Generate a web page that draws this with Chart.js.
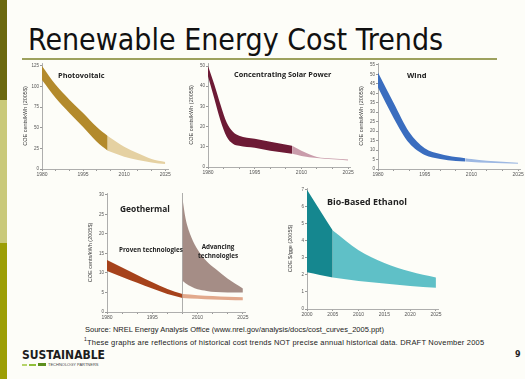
<!DOCTYPE html>
<html>
<head>
<meta charset="utf-8">
<script src="https://cdn.jsdelivr.net/npm/chart.js@4.4.0/dist/chart.umd.min.js"></script>
<style>
body{margin:0;width:525px;height:379px;overflow:hidden;background:#fdfdf8;position:relative;font-family:"DejaVu Sans",Verdana,sans-serif}
.box{position:absolute}
.lbl{position:absolute;font-family:"Open Sans",sans-serif;font-weight:700;color:#222;white-space:nowrap;line-height:1}
</style>
</head>
<body>
<!-- left stripe -->
<div class="box" style="left:0;top:0;width:7px;height:100px;background:#6b680f"></div>
<div class="box" style="left:0;top:100px;width:7px;height:143px;background:#c9c97a"></div>
<div class="box" style="left:0;top:243px;width:7px;height:136px;background:#9c9e05"></div>

<div class="box" id="title" style="left:28px;top:22px;font-family:'DejaVu Sans Condensed','DejaVu Sans',sans-serif;font-size:30px;color:#111;white-space:nowrap">Renewable Energy Cost Trends</div>
<div class="box" style="left:22px;top:58px;width:475px;height:2px;background:#9da15e"></div>

<div class="box" id="c1"><canvas id="pv"></canvas></div>
<div class="box" id="c2"><canvas id="csp"></canvas></div>
<div class="box" id="c3"><canvas id="wind"></canvas></div>
<div class="box" id="c4"><canvas id="geo"></canvas></div>
<div class="box" id="c5"><canvas id="eth"></canvas></div>

<div class="lbl" style="left:58px;top:72px;font-size:7.4px">Photovoltaic</div>
<div class="lbl" style="left:234px;top:71px;font-size:7.3px">Concentrating Solar Power</div>
<div class="lbl" style="left:407px;top:72px;font-size:7.6px">Wind</div>
<div class="lbl" style="left:120px;top:205px;font-size:8.4px">Geothermal</div>
<div class="lbl" style="left:119px;top:247px;font-size:6.3px">Proven technologies</div>
<div class="lbl" style="left:198px;top:243px;font-size:6.3px;text-align:center;line-height:8.5px">Advancing<br>technologies</div>
<div class="lbl" style="left:327px;top:198px;font-size:8.9px">Bio-Based Ethanol</div>

<div class="box" style="left:85px;top:325px;font-family:'Liberation Sans',Arial,sans-serif;font-size:7.5px;color:#222;white-space:nowrap">Source: NREL Energy Analysis Office (www.nrel.gov/analysis/docs/cost_curves_2005.ppt)</div>
<div class="box" style="left:84px;top:336px;font-family:'Liberation Sans',Arial,sans-serif;font-size:7.5px;letter-spacing:0.2px;color:#222;white-space:nowrap"><sup style="font-size:5px">1</sup>These graphs are reflections of historical cost trends NOT precise annual historical data. DRAFT November 2005</div>

<div class="box" style="left:22px;top:348px;font-family:'DejaVu Sans Condensed','DejaVu Sans',sans-serif;font-weight:700;font-size:12px;color:#1d1d1d;white-space:nowrap">SUSTAINABLE</div>
<div class="box" style="left:22px;top:364px;width:5px;height:2px;background:#b6d36a"></div>
<div class="box" style="left:29px;top:364px;width:7px;height:2px;background:#8fbf3a"></div>
<div class="box" style="left:38px;top:363px;width:8px;height:3px;background:#5c8f1e"></div>
<div class="box" style="left:48px;top:362px;font-family:'Liberation Sans',Arial,sans-serif;font-size:4px;color:#444;white-space:nowrap">TECHNOLOGY PARTNERS</div>
<div class="box" style="left:515px;top:350px;font-family:'DejaVu Sans',sans-serif;font-weight:700;font-size:8px;color:#222">9</div>

<script>
// Photovoltaic (cents/kWh, 2005$)
const pvYears = [1980, 1985, 1990, 1995, 2000, 2004];
const pvHigh = [125, 102, 84, 68, 51, 40];
const pvLow = [108, 86, 68, 51, 33, 22];
const pvYears2 = [2004, 2010, 2015, 2020, 2025];
const pvHigh2 = [40, 27, 19, 12, 8.5];
const pvLow2 = [22, 15, 11, 8, 6];

// Concentrating solar power
const cspYears = [1980, 1982, 1984, 1986, 1988, 1990, 1995, 2000, 2007];
const cspHigh = [50, 41, 31, 22, 17.5, 15.5, 14, 12.5, 10.5];
const cspLow = [45, 34, 23, 15, 11.5, 10.5, 9.5, 8, 6.5];
const cspYears2 = [2007, 2010, 2015, 2020, 2025];
const cspHigh2 = [10.5, 8, 5, 4.2, 3.7];
const cspLow2 = [6.5, 5.5, 4.5, 3.8, 3.2];

// Wind
const windYears = [1980, 1985, 1990, 1995, 2000, 2005, 2008];
const windHigh = [51, 35, 19.6, 11, 7.9, 6.3, 5.7];
const windLow = [43, 27, 13.7, 7.4, 5.3, 4.2, 3.9];
const windYears2 = [2008, 2010, 2015, 2020, 2025];
const windHigh2 = [5.7, 5.3, 4.3, 3.8, 3.3];
const windLow2 = [3.9, 3.7, 3.3, 3.0, 2.8];

// Geothermal
const geoYears = [1980, 1985, 1990, 1995, 2000, 2005];
const geoHigh = [13.3, 11.4, 9.5, 7.6, 5.9, 4.6];
const geoLow = [10.5, 9.0, 7.5, 6.0, 4.6, 3.6];
const geoYears2 = [2005, 2010, 2015, 2020, 2025];
const geoHigh2 = [4.6, 4.3, 4.1, 3.9, 3.8];
const geoLow2 = [3.6, 3.4, 3.2, 3.1, 3.0];
const advYears = [2005, 2006, 2008, 2010, 2013, 2016, 2020, 2025];
const advHigh = [29, 24, 19, 16, 13, 11, 8.5, 6];
const advLow = [8, 7.4, 6.5, 5.8, 5.4, 5.1, 5.0, 5.0];
const geoDivider = [2005, 2005];
const geoDividerY = [0, 30.5];

// Bio-based ethanol ($/gge, 2005$)
const ethYears = [2000, 2002.5, 2005];
const ethHigh = [7.0, 5.8, 4.6];
const ethLow = [2.15, 2.0, 1.85];
const ethYears2 = [2005, 2010, 2015, 2020, 2025];
const ethHigh2 = [4.6, 3.45, 2.7, 2.2, 1.85];
const ethLow2 = [1.85, 1.65, 1.5, 1.35, 1.25];

function pts(xs, ys) {
    return xs.map((x, i) => ({x: x, y: ys[i]}));
}

// two datasets, the second fills up to the first
function band(xs, hi, lo, color) {
    return [
        {data: pts(xs, hi), borderWidth: 0, pointRadius: 0, fill: false, cubicInterpolationMode: 'monotone'},
        {data: pts(xs, lo), borderWidth: 0, pointRadius: 0, fill: '-1', backgroundColor: color, cubicInterpolationMode: 'monotone'}
    ];
}

// plot area box given in page pixels
function place(boxId, l, t, r, b) {
    const d = document.getElementById(boxId);
    d.style.left = (l - 20) + 'px';
    d.style.top = (t - 4) + 'px';
    d.style.width = (r - l + 26) + 'px';
    d.style.height = (b - t + 15) + 'px';
}

function make_chart(id, datasets, xmin, xmax, ymax, ystep, ytitle, everyLabel)
{
    const canvas = document.getElementById(id);
    return new Chart(canvas, {
        type: 'line',
        data: {datasets: datasets},
        options: {
            responsive: true,
            maintainAspectRatio: false,
            animation: false,
            layout: {padding: {top: 4, right: 6, left: 0, bottom: 0}},
            plugins: {legend: {display: false}, tooltip: {enabled: false}},
            scales: {
                x: {
                    type: 'linear', min: xmin, max: xmax,
                    afterFit: s => { s.height = 11; },
                    border: {color: '#999', width: 0.8},
                    grid: {drawOnChartArea: false, tickLength: 2, color: '#999'},
                    ticks: {
                        stepSize: 5, includeBounds: false, maxRotation: 0, autoSkip: false, padding: 1,
                        font: {size: 5, family: 'Liberation Sans'}, color: '#555',
                        callback: v => ((v - xmin) % everyLabel === 0 ? String(v) : '')
                    }
                },
                y: {
                    min: 0, max: ymax,
                    afterFit: s => { s.width = 20; },
                    border: {color: '#999', width: 0.8},
                    grid: {drawOnChartArea: false, tickLength: 2, color: '#999'},
                    ticks: {stepSize: ystep, includeBounds: false, padding: 1,
                        font: {size: 4.5, family: 'Liberation Sans'}, color: '#555'},
                    title: {display: true, text: ytitle, padding: 0,
                        font: {size: 5.5, family: 'Liberation Sans'}, color: '#444'}
                }
            }
        }
    });
}

const centsTitle = 'COE cents/kWh (2005$)';

place('c1', 42, 63, 168, 169);
make_chart('pv', [...band(pvYears, pvHigh, pvLow, '#b38a2c'), ...band(pvYears2, pvHigh2, pvLow2, '#e5d1a2')],
    1980, 2026, 128.5, 25, centsTitle, 15);

place('c2', 208, 63, 350, 167);
make_chart('csp', [...band(cspYears, cspHigh, cspLow, '#6d1a35'), ...band(cspYears2, cspHigh2, cspLow2, '#c99cab')],
    1980, 2025.6, 51.5, 10, centsTitle, 15);

place('c3', 378, 63, 520, 169);
make_chart('wind', [...band(windYears, windHigh, windLow, '#3a6dbf'), ...band(windYears2, windHigh2, windLow2, '#9db8e2')],
    1980, 2025.6, 56, 5, centsTitle, 15);

place('c4', 107, 193, 245, 312);
make_chart('geo', [
        ...band(geoYears, geoHigh, geoLow, '#a6421b'),
        ...band(geoYears2, geoHigh2, geoLow2, '#e2a98c'),
        ...band(advYears, advHigh, advLow, '#a58d86'),
        {data: pts(geoDivider, geoDividerY), borderColor: '#8a8a8a', borderWidth: 0.7, pointRadius: 0, fill: false}
    ], 1980, 2025.7, 30.5, 5, centsTitle, 15);

place('c5', 307, 188, 438, 309);
make_chart('eth', [...band(ethYears, ethHigh, ethLow, '#15878f'), ...band(ethYears2, ethHigh2, ethLow2, '#5fc0c7')],
    2000, 2025.4, 7.1, 1, 'COE $/gge (2005$)', 5);
</script>
</body>
</html>
